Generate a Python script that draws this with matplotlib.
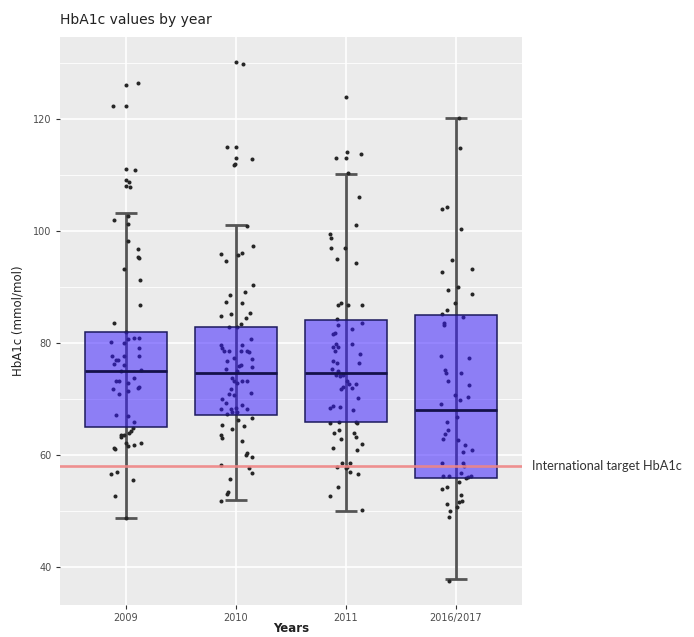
import numpy as np
import matplotlib
matplotlib.use("Agg")
import matplotlib.pyplot as plt
from matplotlib.transforms import blended_transform_factory

# ---------------- data ----------------
categories = ["2009", "2010", "2011", "2016/2017"]

# box statistics
q1 = [65.0, 67.2, 65.9, 55.9]
median = [75.0, 74.6, 74.6, 68.0]
q3 = [82.0, 82.9, 84.0, 85.0]
whisker_lo = [48.8, 52.0, 50.0, 37.9]
whisker_hi = [103.2, 101.0, 110.1, 120.1]

target = 58

# individual HbA1c values (mmol/mol)
vals_2009 = [126.1, 126.4, 122.2, 122.2, 111.1, 110.9, 109.1, 108.8, 108.0, 107.8,
             102.0, 102.7, 101.2, 98.1, 96.7, 95.4, 95.2, 93.2, 91.25, 86.7, 83.6,
             81.85, 80.7, 80.8, 80.95, 80.1, 79.9, 79.05, 77.7, 77.7, 77.7, 77.0, 77.0,
             76.1, 76.2, 74.9, 75.2, 73.7, 73.1, 73.1, 72.8, 72.0, 72.2, 71.8, 71.4,
             70.9, 67.1, 67.0, 65.9, 64.8, 64.2, 63.6, 63.2, 63.6, 63.9, 62.1, 61.6,
             61.8, 62.2, 61.3, 61.0, 56.6, 57.0, 55.5, 52.7, 48.7]
jit_2009 = [0, 35, -40, 0, 0, 27, 0, 10, 0, 13, -37, 5, 7, 7, 35, 35, 38, -5, 42, 42, -37,
            0, 5, 25, 40, -45, -7, 40, -43, -5, 40, -30, -25, -7, -35, -15, 45, 25, -30,
            -20, 5, 35, 40, -40, 5, -20, -30, 5, 25, 20, 15, -15, -15, -5, 10, 0, 5, 25,
            45, -37, -32, -45, -27, 21, -33, 0]

vals_2010 = [130.05, 129.8, 115.05, 115.05, 113.0, 112.9, 111.8, 112.0, 100.9, 97.3,
             95.8, 94.7, 95.7, 96.1, 90.4, 89.05, 88.6, 87.3, 87.1, 84.8, 85.2, 85.4,
             84.4, 83.4, 82.8, 82.8,
             80.7, 79.6, 79.05, 78.6, 78.6, 79.6, 78.6, 78.6, 78.4, 77.3, 76.7, 77.1,
             75.7, 75.8, 76.0, 75.3, 74.9, 73.7, 73.1, 72.9, 73.1, 73.2, 71.75, 70.9,
             70.7, 71.0, 69.9, 69.2, 68.2, 68.2, 68.3, 68.9, 68.2, 67.3, 67.7, 67.7,
             66.25, 66.55, 65.4, 64.6, 65.1, 63.6, 63.1, 62.5, 60.0, 60.3, 59.7, 58.2,
             57.6, 56.7, 55.7, 53.0, 53.3, 51.8]
jit_2010 = [1, 22, -28, 1, 1, 49, -6, -3, 34, 51, -46, -31, 7, 19, 51, 27, -19, -31, 19,
            -44, -14, 41, 31, 16, -21, 4,
            44, -46, -41, -21, -36, 19, 14, 34, 39, -6, -26, 49, 49, 9, 14, -31, 4, -11,
            -6, 4, 19, 34, -16, -21, -6, 44, -41, -31, -46, -16, -1, 19, 34, -26, -11, 4,
            7, 49, -41, -11, 24, -46, -43, 19, 29, 32, 49, -46, 39, 49, -18, -28, -24, -46]

vals_2011 = [123.9, 113.0, 113.0, 114.0, 113.75, 110.3, 106.1, 101.1, 99.5, 98.7, 96.9,
             97.0, 95.0, 94.2, 86.8, 87.2, 86.8, 86.8, 84.2, 83.2, 83.5,
             81.7, 82.5, 81.5, 79.8, 79.3, 79.3, 78.6, 79.8, 78.0, 76.7, 76.4, 76.4,
             75.3, 74.3, 74.0, 74.3, 74.9, 73.1, 72.7, 72.7, 71.75, 72.1, 71.9, 70.1,
             68.3, 68.8, 68.6, 68.0, 65.7, 65.8, 65.8, 65.7, 63.9, 64.4, 63.9, 63.2,
             62.8, 61.9, 61.2, 60.9, 58.6, 58.6, 57.9, 57.6, 57.9, 57.0, 56.55, 54.2,
             52.6, 50.1]
jit_2011 = [0, -30, 0, 2, 44, 7, 39, 30, -48, -45, -46, -3, -28, 30, -23, -16, 7, 49,
            -28, -23, 47,
            -33, 19, -40, -30, -25, -40, -33, 19, 42, -40, -28, 39, -41, -30, -18, -10,
            -23, 4, 9, 30, -16, -10, 17, 37, -48, -40, -18, 22, -48, -20, 30, 34, -35,
            -20, 24, 30, -16, 49, -40, 34, -13, 12, -26, -1, 4, 12, 37, -23, -48, 49]

vals_2016 = [120.1, 114.8, 103.9, 104.2, 100.3, 94.8, 92.6, 93.2, 89.9, 89.4, 88.7,
             87.1, 85.9, 85.2, 84.7, 83.5, 83.1,
             77.6, 77.3, 75.1, 74.7, 74.7, 73.2, 72.5, 70.7, 69.8, 70.3, 69.1, 66.8,
             65.95, 64.4, 63.75, 62.8, 62.6, 61.7, 60.6, 60.8, 58.6, 58.5, 58.1, 56.25,
             56.25, 56.7, 55.8, 56.1, 56.3, 55.1, 53.9, 54.2, 52.9, 51.7, 51.5, 51.25,
             50.7, 49.9, 48.9, 37.5]
jit_2016 = [10, 12, -43, -26, 14, -11, -41, 49, 7, -25, 49, -3, -26, -41, 22, -36, -35,
            -46, 39, -33, -30, 15, -23, 39, -3, 12, 37, -46, 2, -28, -23, -33, -40, 7,
            27, 20, 49, -41, 22, 25, -40, -21, 14, 30, 37, 44, 10, -43, -28, 15, 17, 10,
            -28, 2, -18, -21, -20]

values = [vals_2009, vals_2010, vals_2011, vals_2016]
jitters = [jit_2009, jit_2010, jit_2011, jit_2016]
JIT_SCALE = 330.0  # jitter entries measured in 1/330 of a category step

# ---------------- figure ----------------
fig = plt.figure(figsize=(6.94, 6.37), dpi=100)
ax = fig.add_axes([60 / 694, 32 / 637, 462 / 694, 568 / 637])
ax.set_facecolor("#EBEBEB")
for s in ax.spines.values():
    s.set_visible(False)

pos = np.arange(1, len(categories) + 1)

ax.set_xlim(0.4, 4.6)
ax.set_ylim(33.2, 134.6)
ax.set_yticks([40, 60, 80, 100, 120])
ax.set_yticks([50, 70, 90, 110, 130], minor=True)
ax.set_xticks(pos)
ax.set_xticklabels(categories)
ax.grid(which="major", color="white", linewidth=1.2, zorder=0)
ax.grid(which="minor", axis="y", color="white", linewidth=0.6, zorder=0)
ax.set_axisbelow(True)
ax.tick_params(which="major", length=3, width=0.8, color="#333333",
               labelsize=7, labelcolor="#4D4D4D", pad=3)
ax.tick_params(which="minor", length=0)

# error bars (whiskers through the box)
ax.vlines(pos, whisker_lo, whisker_hi, color="#555555", linewidth=2, zorder=2)
ax.hlines(whisker_lo, pos - 0.1, pos + 0.1, color="#555555", linewidth=2, zorder=2)
ax.hlines(whisker_hi, pos - 0.1, pos + 0.1, color="#555555", linewidth=2, zorder=2)

# jittered points
for p, v, j in zip(pos, values, jitters):
    xs = p + np.array(j) / JIT_SCALE
    ax.plot(xs, v, "o", color="#262626", markersize=2.9, markeredgewidth=0, zorder=3)

# boxes
stats = [dict(q1=a, med=b, q3=c, whislo=c, whishi=c, fliers=[])
         for a, b, c in zip(q1, median, q3)]
ax.bxp(stats, positions=pos, widths=0.75, showfliers=False, patch_artist=True,
       showcaps=False,
       boxprops=dict(facecolor=(0.22, 0.10, 1.0, 0.52), edgecolor="#1C1A5E",
                     linewidth=1.1),
       medianprops=dict(color="#14124A", linewidth=2),
       whiskerprops=dict(linewidth=0), manage_ticks=False, zorder=4)

# target line
ax.axhline(target, color="#EF8585", linewidth=1.9, alpha=0.9, zorder=5)
ax.text(532 / 694, target, "International target HbA1c",
        transform=blended_transform_factory(fig.transFigure, ax.transData),
        fontsize=9.2, family="Lato", color="#333333", va="center", ha="left")

fig.text(291 / 694, 1 - 628 / 637, "Years", fontsize=8.5, color="#222222",
         fontweight="semibold", va="center", ha="center")
ax.set_ylabel("HbA1c (mmol/mol)", fontsize=8.5, color="#222222", labelpad=6)
fig.text(60 / 694, 1 - 20 / 637, "HbA1c values by year", fontsize=10,
         color="#222222", va="center", ha="left")

fig.savefig("out.png", dpi=100)
